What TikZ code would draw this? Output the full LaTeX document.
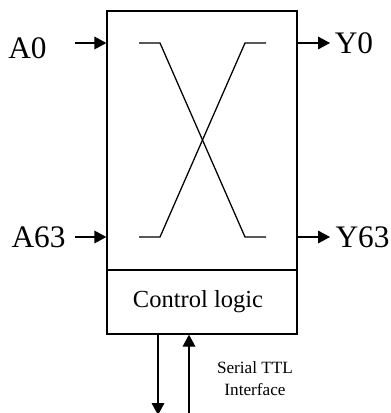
\documentclass[tikz,border=0pt]{standalone}
\usepackage{fontspec}
\setmainfont{Liberation Serif}
\usetikzlibrary{arrows.meta,positioning}

\tikzset{
    port/.style={inner sep=0pt, font=\fontsize{23.5}{26}\selectfont},
    blockbox/.style={draw, line width=0.95pt, minimum width=142.5pt, inner sep=0pt},
    sigarrow/.style={line width=0.95pt, -{Triangle[length=9pt,width=9.5pt]}},
    xline/.style={line width=0.95pt}
}

\begin{document}
\begin{tikzpicture}[x=0.75pt, y=-0.75pt]
    \useasboundingbox (0,0) rectangle (391,413);

    % Switch matrix and control block
    \node[blockbox, minimum height=194.25pt] (matrix) at (202,140.5) {};
    \node[blockbox, minimum height=48pt] (control) at (202,302) {};
    \node[inner sep=0pt, font=\fontsize{18.4}{22}\selectfont] (controltext) at (198,302) {Control logic};

    % Ports
    \node[port] (a0) at (27.5,48) {A0};
    \node[port] (a63) at (38.5,237) {A63};
    \node[port] (y0) at (354,43) {Y0};
    \node[port] (y63) at (362.5,237) {Y63};

    % Free ends of the arrows
    \coordinate (a0in) at (75,43);
    \coordinate (a0end) at (matrix.west |- a0in);
    \coordinate (a63in) at (75,237);
    \coordinate (a63end) at (matrix.west |- a63in);
    \coordinate (y0out) at (330,43);
    \coordinate (y0start) at (matrix.east |- y0out);
    \coordinate (y63out) at (330,237);
    \coordinate (y63start) at (matrix.east |- y63out);
    \coordinate (busout) at (158,415);
    \coordinate (busstart) at (control.south -| busout);
    \coordinate (busin) at (189,415);
    \coordinate (busend) at (control.south -| busin);

    % Inputs and outputs
    \draw[sigarrow] (a0in) -- (a0end);
    \draw[sigarrow] (a63in) -- (a63end);
    \draw[sigarrow] (y0start) -- (y0out);
    \draw[sigarrow] (y63start) -- (y63out);

    % Serial lines
    \draw[sigarrow] (busstart) -- (busout);
    \draw[sigarrow] (busin) -- (busend);
    \node[align=center, inner sep=0pt, font=\fontsize{12.9}{16.5}\selectfont] (serial) at (255,379) {Serial TTL\\Interface};

    % Crossing
    \coordinate (tl) at (139,43);
    \coordinate (tr) at (266,43);
    \coordinate (bl) at (139,237);
    \coordinate (br) at (266,237);
    \draw[xline] (tl) -- (160,43) -- (245,237) -- (br);
    \draw[xline] (bl) -- (160,237) -- (245,43) -- (tr);
\end{tikzpicture}
\end{document}
